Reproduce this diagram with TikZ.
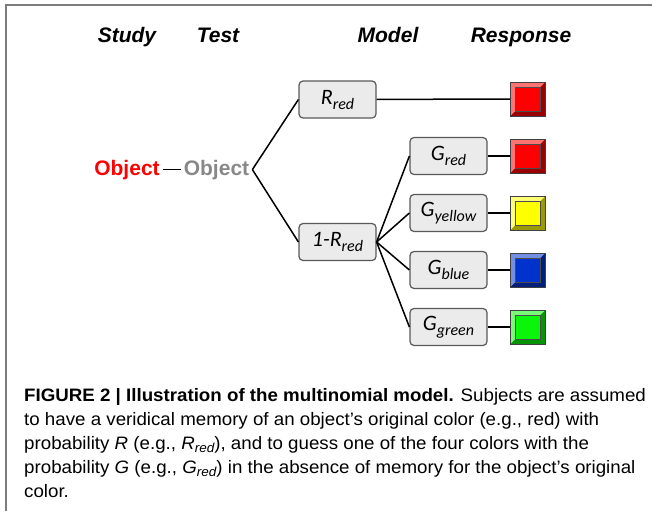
\documentclass[tikz,border=0pt]{standalone}
\usepackage{fontspec}
\setmainfont{Liberation Sans}
\newfontfamily\boxfont{Carlito}
\newfontfamily\capfont[FakeStretch=1.04]{Liberation Sans}
\usetikzlibrary{shapes.geometric, arrows}
\definecolor{boxgray}{RGB}{235,235,235}
\definecolor{objgray}{RGB}{136,136,136}
\definecolor{framegray}{RGB}{125,125,125}
\definecolor{keyred}{RGB}{255,0,0}
\definecolor{keyyellow}{RGB}{255,255,0}
\definecolor{keyblue}{RGB}{0,51,204}
\definecolor{keygreen}{RGB}{10,245,10}
\newcommand{\modlab}[2]{#1\raisebox{-5pt}{\fontsize{16}{16}\selectfont #2}}
\newcommand{\capsub}[1]{\raisebox{-3.5pt}{\fontsize{13}{13}\selectfont\itshape #1}}
\tikzstyle{header} = [anchor=base, font=\fontsize{21}{25}\selectfont\bfseries\itshape]
\tikzstyle{object} = [anchor=base, inner sep=3pt, font=\fontsize{21}{25}\selectfont\bfseries]
\tikzstyle{model} = [rectangle, rounded corners=4pt, minimum width=77pt, minimum height=37pt, text centered, draw=black!65, line width=1.2pt, fill=boxgray, font=\boxfont\itshape\fontsize{22}{24}\selectfont]
\tikzstyle{branch} = [line width=1.5pt, black]
\tikzset{resp/.style={rectangle, minimum width=35pt, minimum height=34pt, draw=black!75, line width=1pt, fill=#1,
  path picture={
    \fill[#1!55!white] (path picture bounding box.north west) -- (path picture bounding box.north east)
      -- ([shift={(-5pt,-5pt)}]path picture bounding box.north east) -- ([shift={(5pt,-5pt)}]path picture bounding box.north west)
      -- ([shift={(5pt,5pt)}]path picture bounding box.south west) -- (path picture bounding box.south west) -- cycle;
    \fill[#1!60!black] (path picture bounding box.south east) -- (path picture bounding box.north east)
      -- ([shift={(-5pt,-5pt)}]path picture bounding box.north east) -- ([shift={(-5pt,5pt)}]path picture bounding box.south east)
      -- ([shift={(5pt,5pt)}]path picture bounding box.south west) -- (path picture bounding box.south west) -- cycle;
    \draw[black!70, line width=0.8pt] ([shift={(5pt,-5pt)}]path picture bounding box.north west) rectangle ([shift={(-5pt,5pt)}]path picture bounding box.south east);
  }}}

\begin{document}
\begin{tikzpicture}[x=1pt, y=-1pt, node distance=57pt]
\useasboundingbox (0,0) rectangle (652,511);
\draw [framegray, line width=1.5pt] (6,511) -- (6,5) -- (652,5);
% column titles
\node (hstudy) [header] at (127,42) {Study};
\node (htest) [header] at (218,42) {Test};
\node (hmodel) [header] at (388,42) {Model};
\node (hresp) [header] at (521,42) {Response};
% study and test objects
\node (objs) [object, text=keyred] at (127,175) {Object};
\node (objt) [object, text=objgray] at (216.5,175) {Object};
% model
\node (rr) [model] at (337.5,99.5) {\modlab{R}{red}};
\node (nr) [model] at (337.5,242) {1-\modlab{R}{red}};
\node (gred) [model] at (448.5,156) {\modlab{G}{red}};
\node (gyel) [model, below of=gred] {\modlab{G}{yellow}};
\node (gblue) [model, below of=gyel] {\modlab{G}{blue}};
\node (ggreen) [model, below of=gblue] {\modlab{G}{green}};
% responses
\node (kred) [resp=keyred, node distance=79.5pt, right of=gred] {};
\node (kyel) [resp=keyyellow, node distance=79.5pt, right of=gyel] {};
\node (kblue) [resp=keyblue, node distance=79.5pt, right of=gblue] {};
\node (kgreen) [resp=keygreen, node distance=79.5pt, right of=ggreen] {};
\node (kmem) [resp=keyred, node distance=57pt, above of=kred] {};
\draw [branch] (objs) -- (objt);
\draw [branch] (objt.east) -- (rr.west);
\draw [branch] (objt.east) -- (nr.west);
\draw [branch] (rr) -- (kmem);
\draw [branch] (nr.east) -- (gred.west);
\draw [branch] (nr.east) -- (gyel.west);
\draw [branch] (nr.east) -- (gblue.west);
\draw [branch] (nr.east) -- (ggreen.west);
\draw [branch] (gred) -- (kred);
\draw [branch] (gyel) -- (kyel);
\draw [branch] (gblue) -- (kblue);
\draw [branch] (ggreen) -- (kgreen);
% caption (base = last line)
\node (caption) [anchor=base west, align=left, inner sep=0pt, font=\capfont\fontsize{18}{24}\selectfont] at (24,497) {\textbf{FIGURE 2 | Illustration of the multinomial model.} Subjects are assumed\\
to have a veridical memory of an object’s original color (e.g., red) with\\
probability \textit{R} (e.g., \textit{R}\capsub{red}), and to guess one of the four colors with the\\
probability \textit{G} (e.g., \textit{G}\capsub{red}) in the absence of memory for the object’s original\\
color.};
\end{tikzpicture}
\end{document}
